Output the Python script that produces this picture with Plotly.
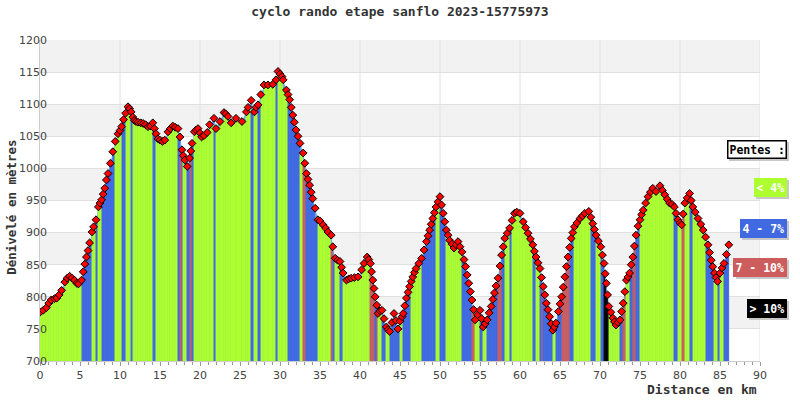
import numpy as np
import plotly.graph_objects as go

# ---- data ----
dist_km = [0.0, 0.4, 0.8, 1.1, 1.4, 1.8, 2.1, 2.4, 2.7, 3.1, 3.4, 3.7, 4.0, 4.3, 4.6, 4.8, 5.2, 5.4, 5.6, 5.8,
           6.0, 6.2, 6.5, 6.7, 7.0, 7.3, 7.5, 7.7, 7.9, 8.1, 8.3, 8.5, 8.8, 9.1, 9.4, 9.75, 10.0, 10.2, 10.45, 10.7,
           11.0, 11.2, 11.4, 11.6, 11.8, 12.0, 12.25, 12.6, 12.9, 13.2, 13.5, 13.8, 14.1, 14.3, 14.5, 14.75, 15.0, 15.3, 15.6, 16.0,
           16.3, 16.6, 16.9, 17.25, 17.5, 17.75, 17.9, 18.1, 18.4, 18.7, 18.85, 19.0, 19.3, 19.5, 19.75, 20.0, 20.2, 20.5, 20.9, 21.2,
           21.75, 22.0, 22.5, 23.0, 23.2, 23.5, 23.9, 24.5, 25.25, 25.8, 26.0, 26.4, 26.8, 27.0, 27.25, 27.6, 28.0, 28.5, 29.1, 29.5,
           29.75, 30.0, 30.25, 30.4, 30.8, 31.0, 31.2, 31.4, 31.6, 31.8, 32.0, 32.25, 32.5, 32.9, 33.1, 33.3, 33.5, 33.7, 33.9, 34.1,
           34.4, 34.75, 35.0, 35.4, 35.7, 36.0, 36.4, 36.6, 36.9, 37.2, 37.5, 37.7, 37.9, 38.3, 38.6, 38.9, 39.3, 39.75, 40.2, 40.5,
           40.9, 41.1, 41.3, 41.45, 41.6, 41.75, 41.9, 42.1, 42.25, 42.5, 42.75, 43.0, 43.3, 43.5, 43.7, 44.0, 44.25, 44.5, 44.75, 45.0,
           45.25, 45.4, 45.6, 45.8, 46.0, 46.2, 46.4, 46.6, 46.8, 47.0, 47.35, 47.7, 48.0, 48.3, 48.5, 48.7, 48.9, 49.1, 49.3, 49.5,
           49.75, 50.0, 50.2, 50.4, 50.6, 50.8, 51.0, 51.2, 51.5, 51.75, 52.0, 52.25, 52.5, 52.75, 53.0, 53.2, 53.4, 53.6, 53.8, 54.0,
           54.2, 54.4, 54.7, 55.0, 55.2, 55.4, 55.65, 55.9, 56.15, 56.4, 56.6, 56.8, 57.0, 57.25, 57.5, 57.7, 57.9, 58.1, 58.4, 58.7,
           59.0, 59.3, 59.6, 60.0, 60.4, 60.7, 61.0, 61.3, 61.6, 61.8, 62.0, 62.25, 62.5, 62.7, 62.9, 63.1, 63.3, 63.5, 63.7, 63.9,
           64.1, 64.3, 64.5, 64.8, 65.0, 65.2, 65.4, 65.6, 65.8, 66.0, 66.2, 66.4, 66.6, 66.8, 67.1, 67.5, 67.8, 68.1, 68.6, 68.85,
           69.1, 69.3, 69.5, 69.8, 70.1, 70.3, 70.5, 70.65, 70.8, 70.95, 71.1, 71.35, 71.6, 71.8, 72.0, 72.25, 72.5, 72.7, 72.9, 73.1,
           73.3, 73.5, 73.7, 73.9, 74.1, 74.3, 74.5, 74.75, 75.0, 75.2, 75.4, 75.7, 76.0, 76.3, 76.6, 77.0, 77.5, 77.8, 78.1, 78.4,
           78.7, 79.0, 79.3, 79.5, 79.75, 80.0, 80.2, 80.4, 80.6, 80.9, 81.2, 81.4, 81.6, 81.9, 82.25, 82.6, 82.9, 83.2, 83.5, 83.7,
           83.9, 84.1, 84.3, 84.5, 84.7, 85.0, 85.25, 85.5, 85.8, 86.1]

elev_m = [776, 779, 783, 790, 795, 797, 798, 803, 810, 823, 829, 832, 829, 826, 821, 820, 826, 839, 851, 862,
          872, 884, 901, 909, 920, 940, 946, 951, 960, 969, 982, 992, 1008, 1026, 1042, 1054, 1059, 1065, 1076, 1086,
          1096, 1093, 1088, 1080, 1075, 1073, 1072, 1071, 1070, 1068, 1065, 1066, 1071, 1062, 1054, 1046, 1044, 1042, 1044, 1057,
          1062, 1066, 1064, 1062, 1049, 1029, 1020, 1013, 1003, 1016, 1027, 1039, 1057, 1060, 1062, 1055, 1049, 1051, 1056, 1068,
          1078, 1062, 1073, 1087, 1085, 1081, 1071, 1078, 1073, 1088, 1095, 1106, 1088, 1095, 1099, 1115, 1130, 1130, 1131, 1138,
          1151, 1147, 1143, 1138, 1122, 1115, 1107, 1095, 1083, 1072, 1060, 1050, 1039, 1024, 1008, 992, 983, 974, 963, 953,
          938, 920, 918, 912, 907, 901, 896, 878, 860, 857, 855, 846, 837, 826, 828, 829, 830, 831, 842, 852,
          862, 858, 852, 839, 826, 813, 800, 787, 774, 778, 779, 766, 753, 749, 746, 760, 774, 763, 750, 762,
          769, 774, 786, 798, 807, 816, 824, 831, 838, 844, 852, 860, 873, 886, 895, 904, 913, 922, 931, 940,
          948, 956, 943, 930, 917, 904, 896, 888, 882, 876, 881, 886, 878, 870, 858, 847, 834, 821, 808, 795,
          780, 764, 772, 779, 766, 753, 758, 764, 775, 785, 796, 806, 817, 829, 848, 865, 878, 891, 899, 907,
          919, 930, 932, 930, 917, 908, 899, 890, 881, 871, 862, 853, 844, 830, 816, 803, 790, 780, 769, 758,
          748, 753, 759, 777, 789, 800, 815, 831, 847, 862, 877, 891, 900, 909, 915, 922, 926, 930, 933, 924,
          914, 905, 896, 887, 878, 865, 852, 836, 821, 803, 785, 776, 767, 761, 756, 760, 764, 777, 790, 808,
          826, 831, 837, 850, 862, 879, 896, 910, 920, 928, 935, 946, 956, 963, 969, 964, 973, 966, 959, 952,
          946, 944, 940, 930, 920, 915, 912, 929, 946, 954, 961, 950, 940, 932, 922, 913, 904, 893, 881, 869,
          857, 847, 837, 830, 824, 837, 845, 852, 866, 881]

slope_labels = ["< 4%", "4 - 7%", "7 - 10%", "> 10%"]
slope_colors = ["#adff2f", "#4169e1", "#cd5c5c", "#000000"]
slope_limits = [4, 7, 10]

x_ticks = list(range(0, 95, 5))
y_ticks = list(range(700, 1250, 50))

# ---- derived segments ----
d = np.array(dist_km, dtype=float)
e = np.array(elev_m, dtype=float)
dx = np.diff(d)
de = np.diff(e)
slope = np.abs(de) / (dx * 1000.0) * 100.0
cls = np.digitize(slope, slope_limits)
seg_colors = [slope_colors[c] for c in cls]
seg_mid = (d[:-1] + d[1:]) / 2
seg_top = np.minimum(e[:-1], e[1:])

fig = go.Figure()

# light blue profile area (main axes, drawn first)
fig.add_trace(go.Scatter(x=d, y=e, mode="lines", line=dict(width=0, color="#64aaf0"),
                         fill="tozeroy", fillcolor="#64aaf0", hoverinfo="skip", showlegend=False,
                         xaxis="x", yaxis="y"))
# invisible carrier for the tick-label axis
fig.add_trace(go.Scatter(x=d[:1], y=e[:1], mode="markers", marker=dict(opacity=0),
                         hoverinfo="skip", showlegend=False, xaxis="x", yaxis="y3"))
# slope coloured strips (overlay axes, drawn above the area)
fig.add_trace(go.Bar(x=seg_mid, y=seg_top, width=dx, marker=dict(color=seg_colors,
                     line=dict(color=seg_colors, width=0.4)), showlegend=False,
                     xaxis="x2", yaxis="y2"))
# point markers
fig.add_trace(go.Scatter(x=d, y=e, mode="markers",
                         marker=dict(symbol="diamond", size=6, color="#ff0000",
                                     line=dict(color="#000000", width=1)),
                         showlegend=False, xaxis="x2", yaxis="y2"))

shapes = []
for lo in range(750, 1200, 100):
    shapes.append(dict(type="rect", xref="x", yref="y", x0=0, x1=90, y0=lo, y1=lo + 50,
                       fillcolor="#f2f2f2", line=dict(width=0), layer="below"))
for xv in range(10, 100, 10):
    shapes.append(dict(type="line", xref="x", yref="y", x0=xv, x1=xv, y0=700, y1=1200,
                       line=dict(color="#e0e0e0", width=1), layer="below"))

mono = "DejaVu Sans Mono"
annotations = [
    dict(text="<b>Dénivelé en mètres</b>", xref="paper", yref="paper", x=-0.039, y=0.48,
         xanchor="center", yanchor="middle",
         textangle=-90, showarrow=False, font=dict(family=mono, size=12.5, color="#333")),
    dict(text="<b>Distance en km</b>", xref="paper", yref="paper", x=0.9985, y=-0.09,
         xanchor="right", yanchor="middle", showarrow=False, font=dict(family=mono, size=13, color="#333")),
]

legend_items = [("Pentes :", "#ffffff", "#000000", "#000000", 0.660)]
for lab, col, yp in zip(slope_labels, slope_colors, [0.539, 0.414, 0.290, 0.165]):
    legend_items.append((lab, col, "#ffffff", col, yp))
for txt, bg, fg, bc, yp in legend_items:
    # drop shadow: same-size box made of monospace non-breaking spaces
    annotations.append(dict(text="<b>" + "&nbsp;" * len(txt) + "</b>", xref="paper", yref="paper",
                            x=1.0375, y=yp, xanchor="right", yanchor="middle", showarrow=False,
                            xshift=2, yshift=-2,
                            font=dict(family=mono, size=11.5, color="#c8c8c8"), bgcolor="#c8c8c8",
                            bordercolor="#c8c8c8", borderwidth=1.5, borderpad=1))
    annotations.append(dict(text="<b>" + txt + "</b>", xref="paper", yref="paper", x=1.0375, y=yp,
                            xanchor="right", yanchor="middle", showarrow=False,
                            font=dict(family=mono, size=11.5, color=fg), bgcolor=bg,
                            bordercolor=bc, borderwidth=1.5, borderpad=1))

fig.update_layout(
    width=800, height=400,
    margin=dict(l=40, r=40, t=40, b=39, autoexpand=False),
    paper_bgcolor="#ffffff", plot_bgcolor="#ffffff",
    bargap=0,
    title=dict(text="<b>cyclo rando etape sanflo 2023-15775973</b>", x=0.5, xanchor="center",
               y=0.972, yanchor="middle", yref="container",
               font=dict(family=mono, size=13, color="#333")),
    xaxis=dict(range=[0, 90], tickvals=x_ticks, ticktext=[str(v) for v in x_ticks],
               showgrid=False, zeroline=False, ticks="outside", ticklen=4, tickcolor="#999",
               minor=dict(dtick=1, ticks="outside", ticklen=3, tickcolor="#999", showgrid=False),
               showline=True, linecolor="#cccccc", linewidth=1,
               tickfont=dict(family="DejaVu Sans", size=11, color="#444")),
    yaxis=dict(range=[700, 1200], tickvals=y_ticks, showticklabels=False,
               showgrid=True, gridcolor="#e0e0e0", gridwidth=1, zeroline=False,
               ticks="", showline=True, linecolor="#cccccc", linewidth=1),
    yaxis3=dict(range=[700, 1200], overlaying="y", anchor="free", position=0.0097, side="left",
                tickvals=y_ticks, ticktext=[str(v) for v in y_ticks], ticks="",
                showgrid=False, zeroline=False, showline=False,
                tickfont=dict(family="DejaVu Sans", size=11, color="#444")),
    xaxis2=dict(range=[0, 90], overlaying="x", visible=False, matches="x"),
    yaxis2=dict(range=[700, 1200], overlaying="y", visible=False, matches="y"),
    shapes=shapes,
    annotations=annotations,
)

fig.write_html("out.html", config={"displayModeBar": False},
               post_script="document.body.style.margin='0px';")
